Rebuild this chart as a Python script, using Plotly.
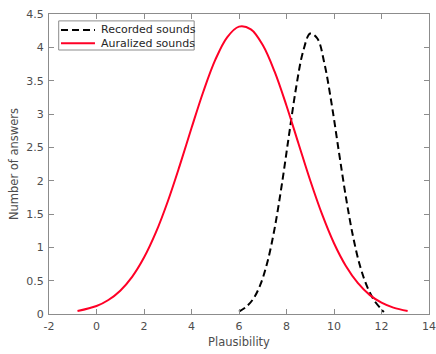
import plotly.graph_objects as go

# Data
auralized_x = [-0.8, 0, 0.5, 1, 1.5, 2, 2.5, 3, 3.5, 4, 4.5, 5, 5.5, 6, 6.5, 7, 7.5, 8,
               8.5, 9, 9.5, 10, 10.5, 11, 11.5, 12, 12.5, 13.1]
auralized_y = [0.045, 0.12, 0.21, 0.35, 0.557, 0.846, 1.223, 1.688, 2.222, 2.789, 3.338,
               3.811, 4.151, 4.311, 4.27, 4.034, 3.635, 3.124, 2.561, 2.002, 1.493, 1.061,
               0.72, 0.466, 0.287, 0.169, 0.095, 0.045]

recorded_x = [6.0, 6.3, 6.6, 6.9, 7.2, 7.5, 7.8, 8.1, 8.4, 8.7, 9.0, 9.3, 9.6, 9.9, 10.2,
              10.5, 10.8, 11.1, 11.4, 11.7, 12.0, 12.1]
recorded_y = [0.035, 0.106, 0.226, 0.439, 0.784, 1.285, 1.934, 2.671, 3.386, 3.939, 4.207,
              4.132, 3.752, 3.151, 2.446, 1.756, 1.166, 0.716, 0.406, 0.2, 0.07, 0.03]

series_names = ["Recorded sounds", "Auralized sounds"]
x_ticks = [-2, 0, 2, 4, 6, 8, 10, 12, 14]
x_tick_labels = ["-2", "0", "2", "4", "6", "8", "10", "12", "14"]
y_ticks = [0, 0.5, 1, 1.5, 2, 2.5, 3, 3.5, 4, 4.5]

RED = "#ff0026"
DASH = "7px,4px"
FONT = "DejaVu Sans"
TXT = "#4d4d4d"
AX = "#8c8c8c"

fig = go.Figure()
fig.add_trace(go.Scatter(x=recorded_x, y=recorded_y, mode="lines", name=series_names[0],
                         line=dict(color="black", width=2, dash=DASH, shape="spline"),
                         showlegend=False))
fig.add_trace(go.Scatter(x=auralized_x, y=auralized_y, mode="lines", name=series_names[1],
                         line=dict(color=RED, width=2, shape="spline"),
                         showlegend=False))

axis_common = dict(showline=True, linecolor=AX, linewidth=1, mirror="ticks",
                   ticks="inside", ticklen=5, tickcolor=AX, showgrid=False,
                   zeroline=False, automargin=False, ticklabelstandoff=2,
                   ticklabeloverflow="allow",
                   tickfont=dict(family=FONT, size=11, color=TXT))

# Legend box (drawn like MATLAB's compact legend)
shapes = [
    dict(type="rect", xref="paper", yref="paper", x0=0.0255, x1=0.382, y0=0.880, y1=0.977,
         line=dict(color=AX, width=1), fillcolor="white", layer="above"),
    dict(type="line", xref="paper", yref="paper", x0=0.0316, x1=0.121, y0=0.947, y1=0.947,
         line=dict(color="black", width=2, dash=DASH), layer="above"),
    dict(type="line", xref="paper", yref="paper", x0=0.0316, x1=0.121, y0=0.9023, y1=0.9023,
         line=dict(color=RED, width=2), layer="above"),
]
annotations = [
    dict(text=series_names[0], xref="paper", yref="paper", x=0.1324, y=0.947,
         xanchor="left", yanchor="middle", showarrow=False,
         font=dict(family=FONT, size=11, color="#262626")),
    dict(text=series_names[1], xref="paper", yref="paper", x=0.1324, y=0.9023,
         xanchor="left", yanchor="middle", showarrow=False,
         font=dict(family=FONT, size=11, color="#262626")),
]

fig.update_layout(
    width=436, height=354,
    margin=dict(l=49, r=7, t=14, b=40, autoexpand=False),
    plot_bgcolor="white", paper_bgcolor="white",
    font=dict(family=FONT, size=11.5, color=TXT),
    xaxis=dict(range=[-2, 14], tickvals=x_ticks, ticktext=x_tick_labels,
               title=dict(text="Plausibility", standoff=5,
                          font=dict(family=FONT, size=11.5, color=TXT)),
               **axis_common),
    yaxis=dict(range=[0, 4.5], tickvals=y_ticks, ticktext=[f"{v:g}" for v in y_ticks],
               title=dict(text="Number of answers", standoff=5,
                          font=dict(family=FONT, size=11.5, color=TXT)),
               **axis_common),
    shapes=shapes,
    annotations=annotations,
    showlegend=False,
    hovermode=False,
)

# Remove the default page margin so the 436x354 figure fills the window exactly.
page_fix = ("document.documentElement.style.overflow='hidden';"
            "document.body.style.margin='0';document.body.style.overflow='hidden';")
fig.write_html("out.html", post_script=page_fix, config={"displayModeBar": False})
